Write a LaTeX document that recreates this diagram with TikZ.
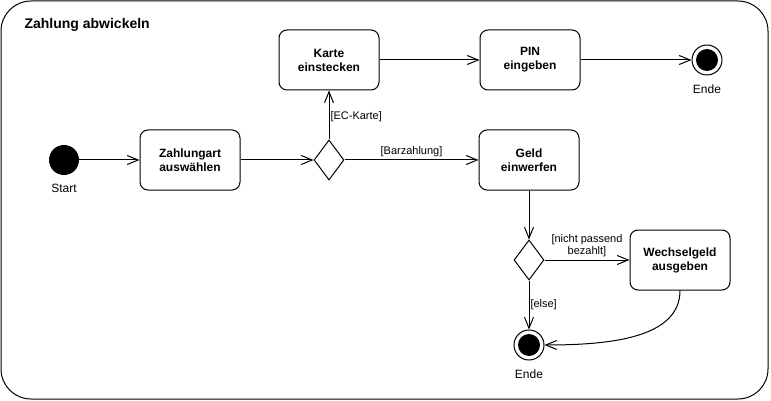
\documentclass[tikz,border=0pt]{standalone}
\usepackage{fontspec}
\setmainfont{Liberation Sans}
\usetikzlibrary{arrows.meta, shapes.geometric, positioning}

\tikzset{
  action/.style={draw, rectangle, rounded corners=8pt, line width=1pt,
    minimum width=100pt, minimum height=60pt, align=center,
    font=\bfseries\fontsize{12}{14}\selectfont},
  decision/.style={draw, diamond, line width=1pt, inner sep=0pt,
    minimum width=30pt, minimum height=40pt},
  startdot/.style={circle, fill=black, minimum size=30pt, inner sep=0pt},
  endring/.style={circle, draw, line width=1pt, fill=white, minimum size=30pt, inner sep=0pt},
  caption/.style={font=\fontsize{12}{14}\selectfont},
  guard/.style={font=\fontsize{11}{13}\selectfont, inner sep=1pt, align=center},
  flow/.style={line width=1pt, -{Straight Barb[length=11pt,width=9pt,line width=1pt]}}
}

\begin{document}
\begin{tikzpicture}[x=1pt, y=-1pt]
  \useasboundingbox (0,0) rectangle (771,401);
  % frame
  \draw[line width=1pt, rounded corners=30pt] (1,1) rectangle (768,399);
  \node[anchor=west, font=\bfseries\fontsize{14}{16}\selectfont] (title) at (21,25) {Zahlung abwickeln};

  % nodes
  \node[startdot] (start) at (64,160) {};
  \node[caption] (startlbl) at (64,188) {Start};
  \node[action] (zahl) at (190,160) {Zahlungart\\auswählen};
  \node[decision] (dec1) at (329,160) {};
  \node[action] (karte) at (329,60) {Karte\\einstecken};
  \node[action] (pin) at (530,60) {PIN\\eingeben};
  \node[endring] (end1) at (707,60) {};
  \fill (end1) circle (11pt);
  \node[caption] (end1lbl) at (707,89) {Ende};
  \node[action] (geld) at (529,160) {Geld\\einwerfen};
  \node[decision] (dec2) at (529,260) {};
  \node[action] (wechsel) at (680,260) {Wechselgeld\\ausgeben};
  \node[endring] (end2) at (529,345) {};
  \fill (end2) circle (11pt);
  \node[caption] (end2lbl) at (529,374) {Ende};

  % flows
  \draw[flow] (start) -- (zahl);
  \draw[flow] (zahl) -- (dec1);
  \draw[flow] (dec1.north) -- (karte.south)
    node[guard, pos=0.47, anchor=west] {[EC-Karte]};
  \draw[flow] (dec1.east) -- (geld.west)
    node[guard, pos=0.5, above=2pt] {[Barzahlung]};
  \draw[flow] (karte) -- (pin);
  \draw[flow] (pin) -- (end1);
  \draw[flow] (geld.south) -- (dec2.north);
  \draw[flow] (dec2.east) -- (wechsel.west)
    node[guard, pos=0.5, above=2pt, font=\fontsize{11}{12}\selectfont] {[nicht passend\\bezahlt]};
  \draw[flow] (dec2.south) -- (end2.north)
    node[guard, pos=0.5, anchor=west] {[else]};
  \draw[flow] (wechsel.south) .. controls (680,338) and (610,345) .. (end2.east);
\end{tikzpicture}
\end{document}
